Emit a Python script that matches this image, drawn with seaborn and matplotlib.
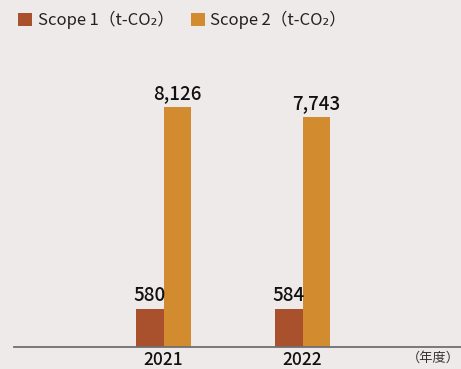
import numpy as np
import pandas as pd
import matplotlib
matplotlib.use("Agg")
import matplotlib.pyplot as plt
import seaborn as sns

# Emissions by fiscal year
years = ["2021", "2022"]
scope1 = [580, 584]
scope2 = [8126, 7743]
series_names = ["Scope\u20091\uff08t-CO\u2082\uff09", "Scope\u20092\uff08t-CO\u2082\uff09"]
unit_label = "\uff08年度\uff09"

colors = ["#A9512C", "#D28C2F"]
bg = "#EEEAE9"

df = pd.DataFrame({
    "year": years * 2,
    "series": [series_names[0]] * len(years) + [series_names[1]] * len(years),
    "value": scope1 + scope2,
})

sns.set_theme(style="white")
plt.rcParams["font.family"] = ["Noto Sans CJK JP", "DejaVu Sans"]

fig = plt.figure(figsize=(4.61, 3.69), dpi=100, facecolor=bg)
ax = fig.add_axes([14 / 461, 22 / 369, 1 - 14 / 461, 317 / 369])
ax.set_facecolor(bg)

# small values are lifted by a fixed offset so they stay visible
OFFSET = 840.0
def fwd(v):
    v = np.asarray(v, dtype=float)
    return np.where(v > 0, v + OFFSET, v)
def inv(t):
    t = np.asarray(t, dtype=float)
    return np.where(t > OFFSET, t - OFFSET, t)
ax.set_yscale("function", functions=(fwd, inv))

sns.barplot(data=df, x="year", y="value", hue="series", palette=colors,
            width=0.39, gap=0, saturation=1, linewidth=0, ax=ax, legend=True)

for cont in ax.containers:
    ax.bar_label(cont, labels=[f"{v:,.0f}" for v in cont.datavalues],
                 padding=3, fontsize=13.5, fontweight="medium", color="#111111")

ax.set_xlim(-1.076, 2.14)
ax.set_ylim(0, 11002)
ax.set_yticks([])
ax.set_xlabel("")
ax.set_ylabel("")
for s in ["top", "right", "left"]:
    ax.spines[s].set_visible(False)
ax.spines["bottom"].set_color("#707070")
ax.spines["bottom"].set_linewidth(1.3)
ax.tick_params(axis="x", length=0, pad=3, labelsize=12.5, labelcolor="#111111")
for t in ax.get_xticklabels():
    t.set_fontweight("medium")

fig.text(460 / 461, (369 - 358) / 369, unit_label, ha="right", va="center",
         fontsize=9.5, color="#333333")

handles, labels = ax.get_legend_handles_labels()
ax.legend(handles, labels, loc="upper left", bbox_to_anchor=(7 / 461, 1.0),
          bbox_transform=fig.transFigure, ncol=2, frameon=False,
          handlelength=0.85, handleheight=0.85, handletextpad=0.35,
          columnspacing=1.0, fontsize=12, labelcolor="#222222",
          borderaxespad=0.25)

fig.savefig("out.png", dpi=100, facecolor=bg)
